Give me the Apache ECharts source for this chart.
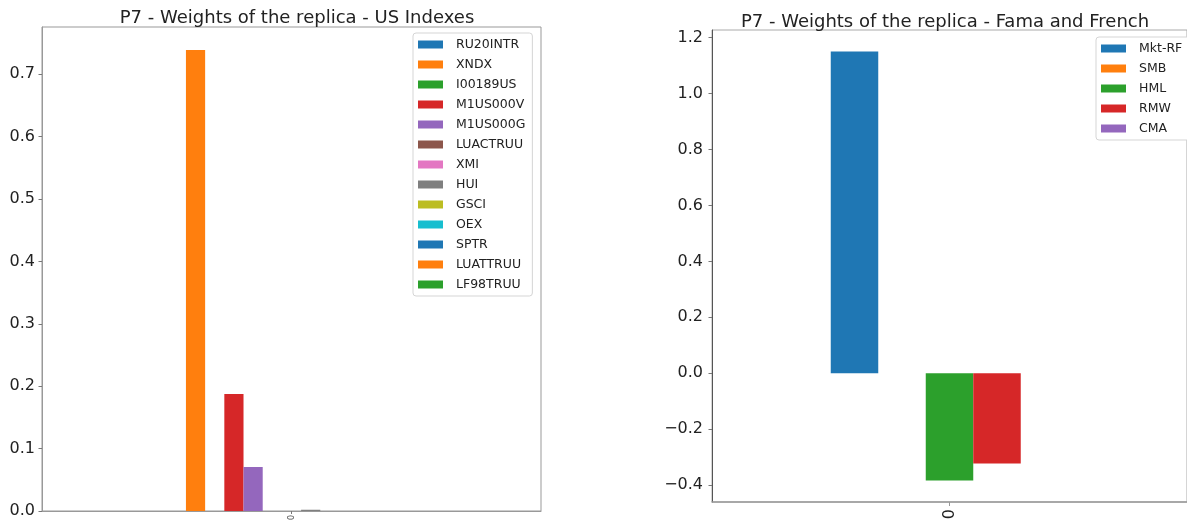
<!DOCTYPE html>
<html>
<head>
<meta charset="utf-8">
<script src="https://cdn.jsdelivr.net/npm/echarts@6/dist/echarts.min.js"></script>
<style>
  html, body { margin: 0; padding: 0; background: #fff; }
  #chart { width: 1187px; height: 527px; }
</style>
</head>
<body>
<div id="chart"></div>
<script>
// Replica weights for a single portfolio (category "0")
const categories = ['0'];

const usNames = ['RU20INTR', 'XNDX', 'I00189US', 'M1US000V', 'M1US000G', 'LUACTRUU',
                 'XMI', 'HUI', 'GSCI', 'OEX', 'SPTR', 'LUATTRUU', 'LF98TRUU'];
const usWeights = [0, 0.7386, 0, 0.1875, 0.0705, 0, 0, 0.002, 0, 0, 0, 0, 0];
const usTicks = [0, 0.1, 0.2, 0.3, 0.4, 0.5, 0.6, 0.7];

const ffNames = ['Mkt-RF', 'SMB', 'HML', 'RMW', 'CMA'];
const ffWeights = [1.1505, 0, -0.3835, -0.3226, 0];
const ffTicks = [-0.4, -0.2, 0, 0.2, 0.4, 0.6, 0.8, 1.0, 1.2];

const palette = ['#1f77b4', '#ff7f0e', '#2ca02c', '#d62728', '#9467bd',
                 '#8c564b', '#e377c2', '#7f7f7f', '#bcbd22', '#17becf'];

const FONT = 'DejaVu Sans';

// axis limits padded by 5% of the data span, zero kept as a hard edge
function limits(values) {
  const lo = Math.min(0, ...values), hi = Math.max(0, ...values);
  const pad = 0.05 * (hi - lo);
  return { min: lo < 0 ? lo - pad : 0, max: hi > 0 ? hi + pad : 0 };
}
const usLim = limits(usWeights);
const ffLim = limits(ffWeights);

const fmt = v => {
  const s = (Math.round(v * 10) / 10).toFixed(1);
  return s.replace('-', '\u2212');
};

function legendFor(names, idx, left, top) {
  return {
    gridIndex: idx,
    data: names,
    orient: 'vertical',
    left: left, top: top,
    icon: 'rect',
    itemWidth: 25, itemHeight: 8,
    itemGap: 5,
    selectedMode: false,
    backgroundColor: '#fff',
    borderColor: '#d5d5d5', borderWidth: 1, borderRadius: 3,
    padding: [4, 7, 4, 5],
    textStyle: { fontFamily: FONT, fontSize: 12.5, color: '#222', lineHeight: 15, padding: [0, 0, 0, 8] }
  };
}

function barSeries(names, values, axisIdx) {
  return names.map((n, i) => ({
    name: n,
    type: 'bar',
    xAxisIndex: axisIdx, yAxisIndex: axisIdx,
    data: [values[i]],
    barGap: '0%',
    barCategoryGap: '50%',
    itemStyle: { color: palette[i % palette.length] },
    emphasis: { disabled: true },
    animation: false
  }));
}

const chart = echarts.init(document.getElementById('chart'), null, { renderer: 'canvas' });

const titleStyle = { fontFamily: FONT, fontSize: 18, fontWeight: 'normal', color: '#222' };

chart.setOption({
  animation: false,
  backgroundColor: '#fff',
  color: palette,
  title: [
    { text: 'P7 - Weights of the replica - US Indexes', left: 292, top: 4, textAlign: 'center', textStyle: titleStyle },
    { text: 'P7 - Weights of the replica - Fama and French', left: 940, top: 8, textAlign: 'center', textStyle: titleStyle }
  ],
  legend: [
    legendFor(usNames, 0, 413, 33),
    legendFor(ffNames, 1, 1096, 37)
  ],
  grid: [
    { left: 42, right: 646, top: 27, bottom: 16, show: true, borderColor: '#999', borderWidth: 1, containLabel: false },
    { left: 712, right: -5, top: 30, bottom: 25, show: true, borderColor: '#aaa', borderWidth: 1, containLabel: false }
  ],
  xAxis: [
    { type: 'category', gridIndex: 0, data: categories,
      axisLine: { show: true, onZero: false, lineStyle: { color: '#999' } },
      axisTick: { show: true, alignWithLabel: true, length: 3, lineStyle: { color: '#777' } },
      axisLabel: { rotate: 90, fontFamily: FONT, fontSize: 8, color: '#444', margin: 4 } },
    { type: 'category', gridIndex: 1, data: categories,
      axisLine: { show: true, onZero: false, lineStyle: { color: '#999', width: 1.5 } },
      axisTick: { show: true, alignWithLabel: true, length: 4, lineStyle: { color: '#999' } },
      axisLabel: { rotate: 90, fontFamily: FONT, fontSize: 16, color: '#222', margin: 7 } }
  ],
  yAxis: [
    { type: 'value', gridIndex: 0, min: usLim.min, max: usLim.max,
      splitLine: { show: false },
      axisLine: { show: true, onZero: false, lineStyle: { color: '#999' } },
      axisTick: { show: true, length: 3.5, customValues: usTicks, lineStyle: { color: '#777' } },
      axisLabel: { customValues: usTicks, formatter: fmt, fontFamily: FONT, fontSize: 16, color: '#222', margin: 7 } },
    { type: 'value', gridIndex: 1, min: ffLim.min, max: ffLim.max,
      splitLine: { show: false },
      axisLine: { show: true, onZero: false, lineStyle: { color: '#555' } },
      axisTick: { show: true, length: 3.5, customValues: ffTicks, lineStyle: { color: '#777' } },
      axisLabel: { customValues: ffTicks, formatter: fmt, fontFamily: FONT, fontSize: 16, color: '#222', margin: 9 } }
  ],
  series: [
    ...barSeries(usNames, usWeights, 0),
    ...barSeries(ffNames, ffWeights, 1)
  ]
});
</script>
</body>
</html>
